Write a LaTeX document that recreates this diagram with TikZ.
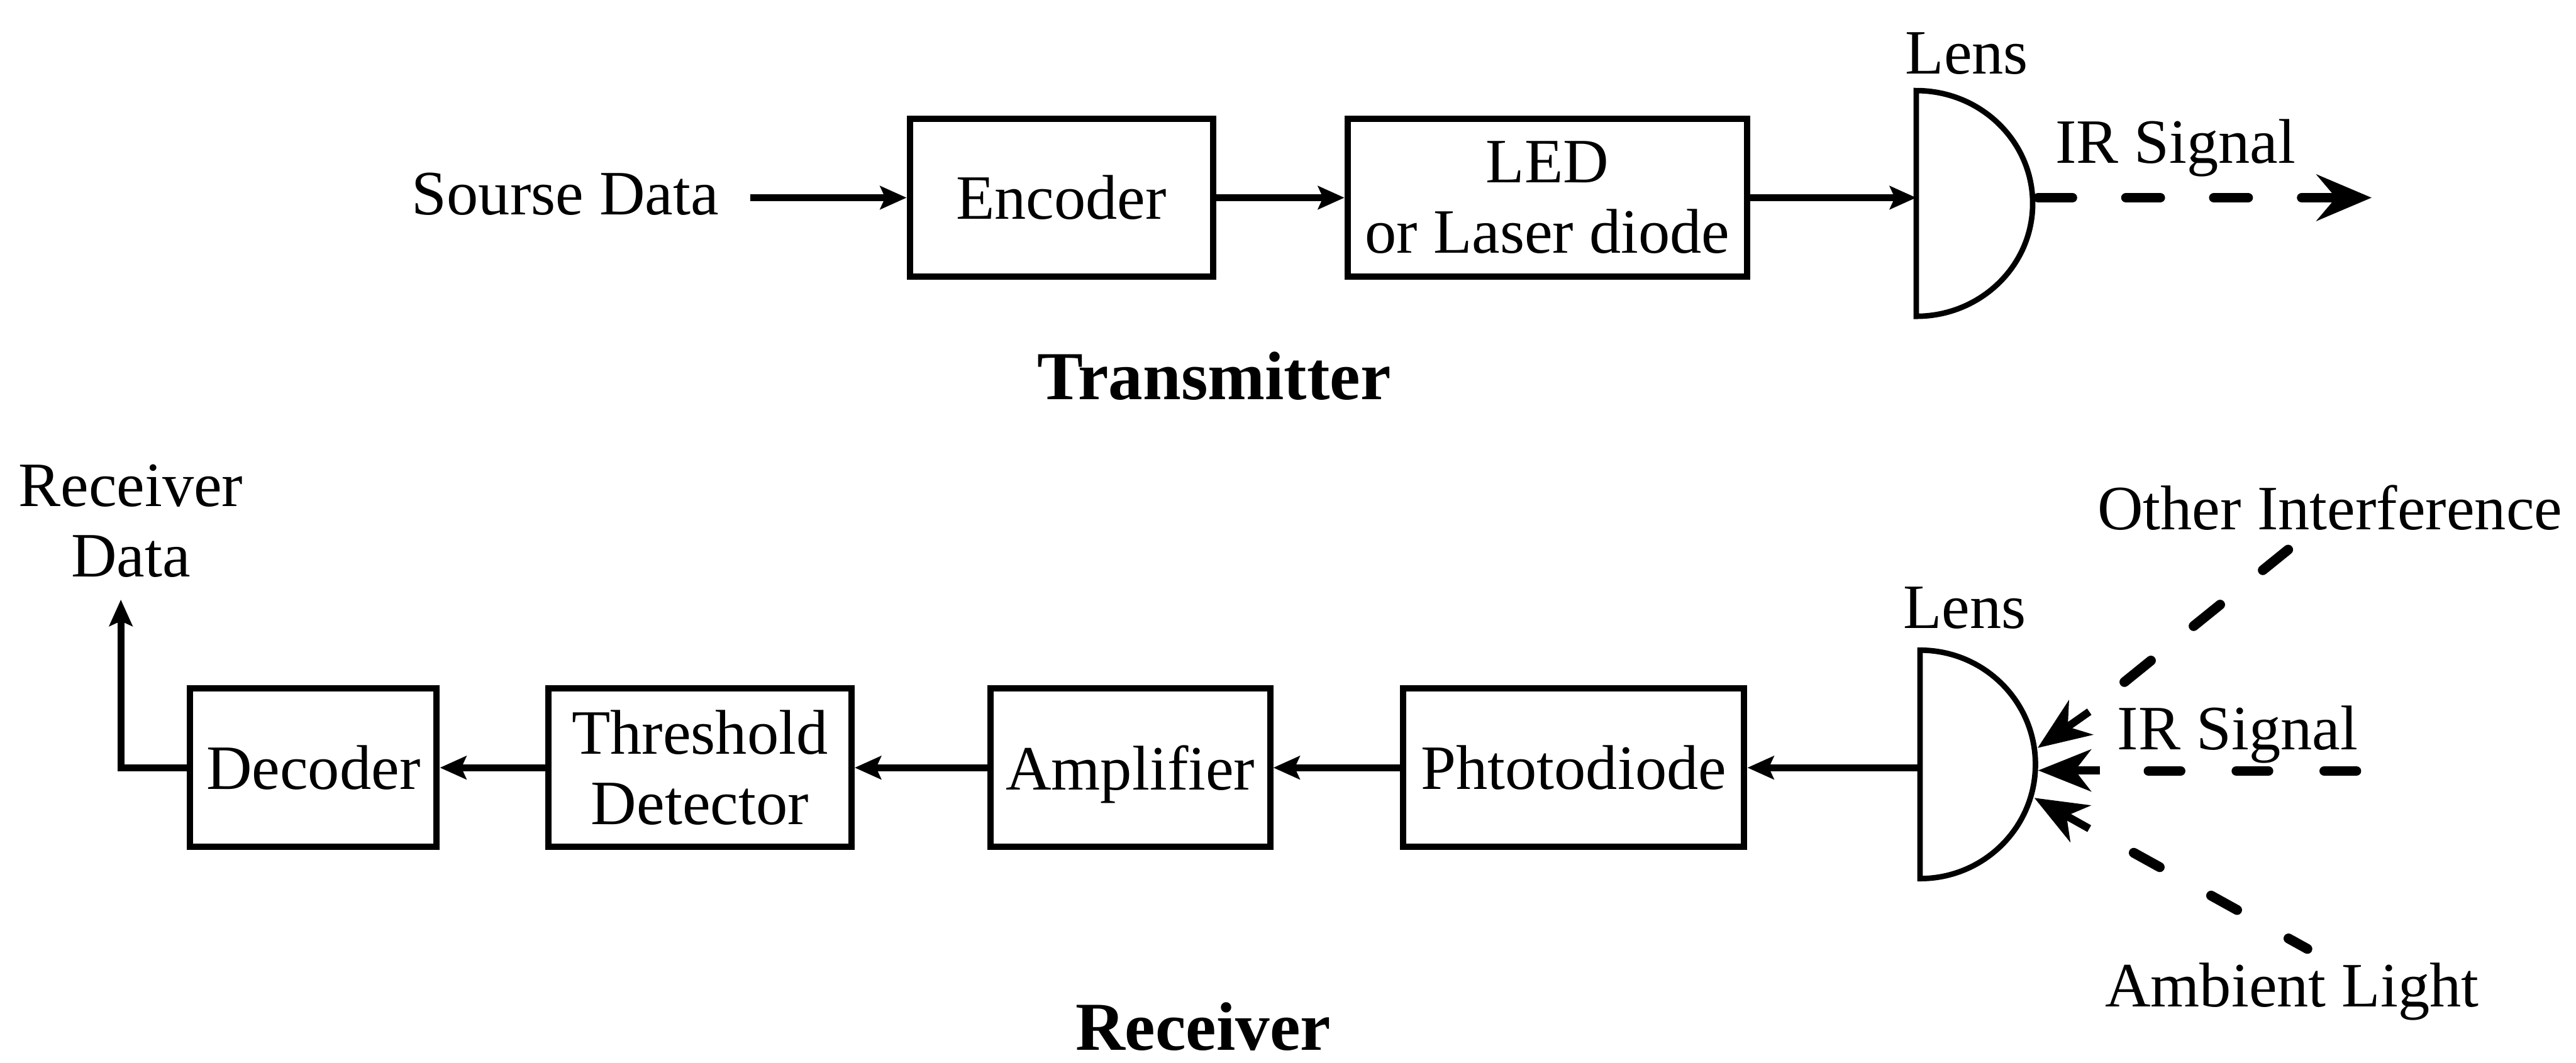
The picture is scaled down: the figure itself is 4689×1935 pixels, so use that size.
\documentclass[tikz,border=0pt]{standalone}
\usepackage{fontspec}
\setmainfont{Liberation Serif}
\usetikzlibrary{arrows.meta}
\begin{document}
\begin{tikzpicture}[x=0.1pt,y=-0.1pt,
  every node/.style={font=\fontsize{11.5pt}{12.8pt}\selectfont, inner sep=0pt},
  blk/.style={draw, line width=1.15pt, minimum height=28.8pt, align=center},
  conn/.style={line width=1.3pt, -{Stealth[length=4.8pt,width=4.2pt,inset=0.9pt]}},
  lensline/.style={line width=1pt},
  ray/.style={line width=1.8pt, line cap=round, dash pattern=on 6.2pt off 9.8pt},
  inarrow/.style={line width=1.4pt, -{Stealth[length=9.6pt,width=7.6pt,inset=2.9pt]}},
  title/.style={font=\bfseries\fontsize{12.5pt}{15pt}\selectfont},
  lbl/.style={anchor=base}
]
\useasboundingbox (0,0) rectangle (4689,1935);

% ---------------- Transmitter ----------------
\node[lbl] (src) at (1029,391) {Sourse Data};
\coordinate (srcout) at (1366,360);
\node[blk, minimum width=55.2pt] (enc) at (1932,360) {Encoder};
\node[blk, minimum width=72.7pt] (led) at (2816.5,360) {LED\\or Laser diode};

\draw[lensline] (3488,165) arc[start angle=-90,end angle=90,x radius=212,y radius=205.5] -- cycle;
\coordinate (lensTin) at (3488,360);
\coordinate (lensTout) at (3710,360);
\coordinate (irTend) at (4317,360);
\node[lbl] (lensTlbl) at (3580,134) {Lens};
\node[lbl] (irTlbl) at (3960,297) {IR Signal};

\draw[conn] (srcout) -- (enc.west);
\draw[conn] (enc.east) -- (led.west);
\draw[conn] (led.east) -- (lensTin);
\draw[ray, -{Stealth[length=10pt,width=8.4pt,inset=3.5pt]}] (lensTout) -- (irTend);

\node[lbl,title] (tx) at (2210,728) {Transmitter};

% ---------------- Receiver ----------------
\node[blk, minimum width=44.9pt] (dec) at (570.5,1398) {Decoder};
\node[blk, minimum width=55.2pt] (thr) at (1274,1398) {Threshold\\Detector};
\node[blk, minimum width=50.9pt, text depth=0pt] (amp) at (2057.5,1398) {Amplifier};
\node[blk, minimum width=62.1pt] (pd) at (2864.5,1398) {Phtotodiode};

\draw[lensline] (3495,1184) arc[start angle=-90,end angle=90,x radius=210,y radius=208] -- cycle;
\coordinate (lensBin) at (3495,1398);
\node[lbl] (lensBlbl) at (3576,1144) {Lens};

\coordinate (rdcorner) at (220,1398);
\coordinate (rdtip) at (220,1092);
\node[align=center] (rd) at (238,949) {Receiver\\Data};

\draw[conn] (dec.west) -- (rdcorner) -- (rdtip);
\draw[conn] (thr.west) -- (dec.east);
\draw[conn] (amp.west) -- (thr.east);
\draw[conn] (pd.west) -- (amp.east);
\draw[conn] (lensBin) -- (pd.east);

% incoming rays
\coordinate (a1s) at (3803,1296); \coordinate (a1e) at (3709,1362);
\coordinate (a2s) at (3822,1403); \coordinate (a2e) at (3710,1403);
\coordinate (a3s) at (3803,1509); \coordinate (a3e) at (3703,1453);
\draw[inarrow] (a1s) -- (a1e);
\draw[inarrow] (a2s) -- (a2e);
\draw[inarrow] (a3s) -- (a3e);

\coordinate (oiS) at (3867,1242); \coordinate (oiE) at (4165,1001);
\coordinate (irS) at (3911,1404); \coordinate (irE) at (4292,1404);
\coordinate (alS) at (3884,1553); \coordinate (alE) at (4200,1728);
\draw[ray, dash pattern=on 6.2pt off 10pt] (oiS) -- (oiE);
\draw[ray, dash pattern=on 5.8pt off 10.2pt] (irS) -- (irE);
\draw[ray, dash pattern=on 5.4pt off 10.7pt] (alS) -- (alE);

\node[lbl] (oilbl) at (4241,964) {Other Interference};
\node[lbl] (irBlbl) at (4073,1365) {IR Signal};
\node[lbl] (allbl) at (4172,1833) {Ambient Light};

\node[lbl,title] (rx) at (2190,1912) {Receiver};
\end{tikzpicture}
\end{document}
